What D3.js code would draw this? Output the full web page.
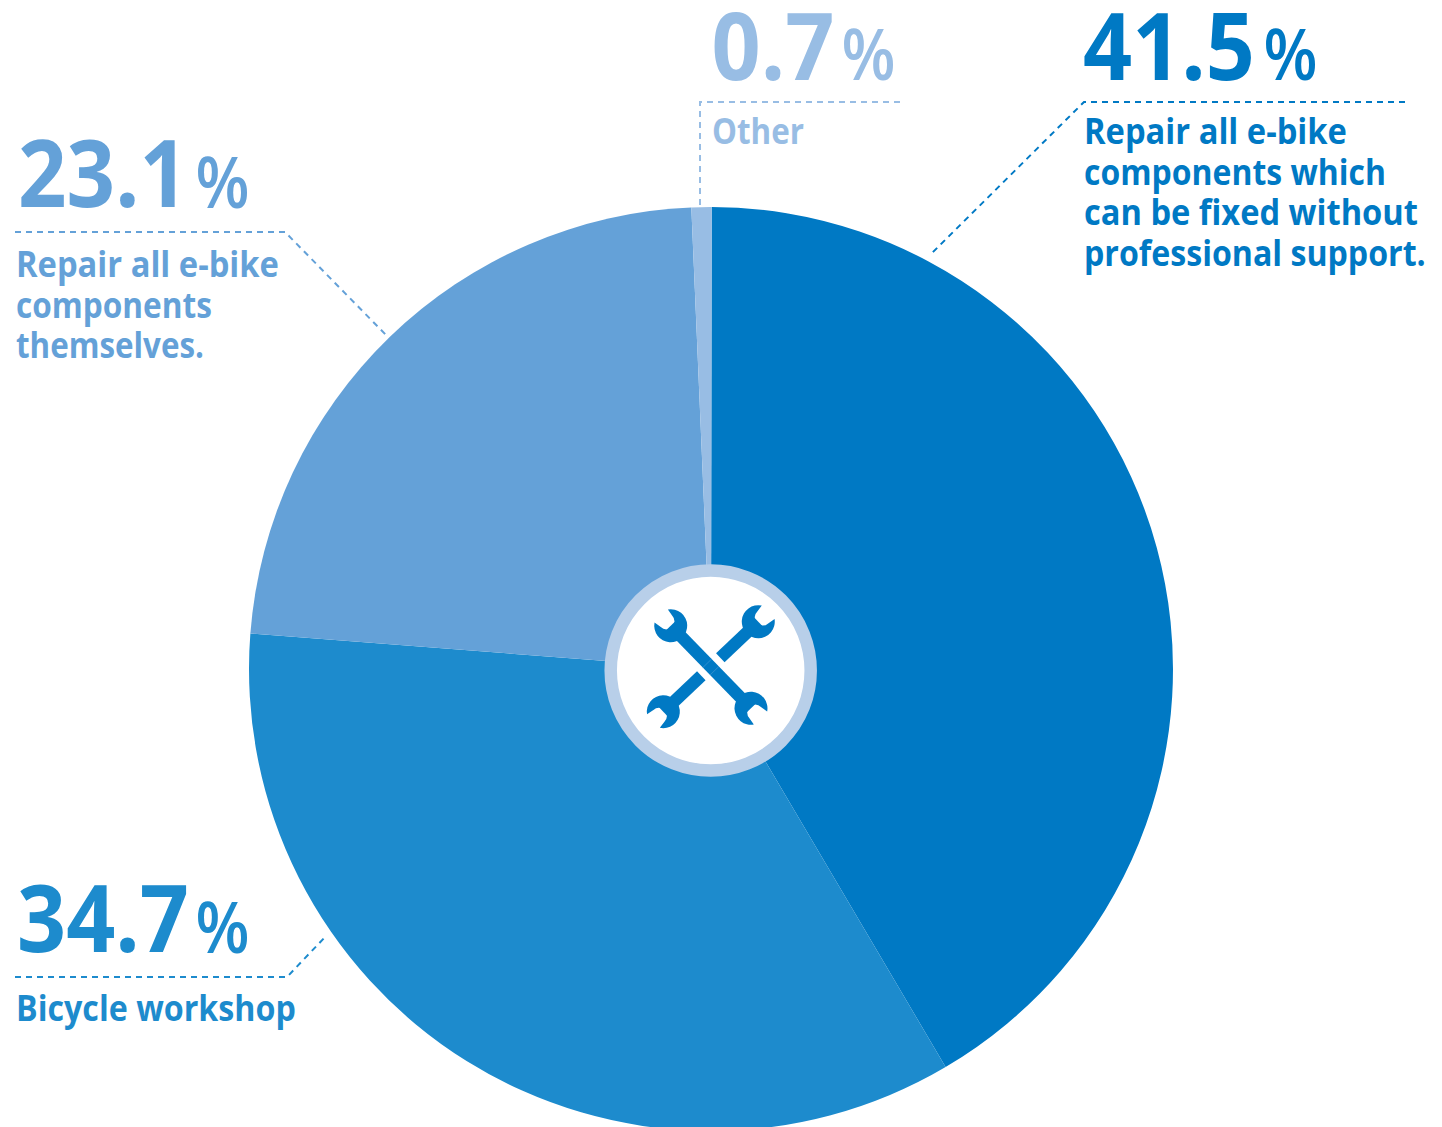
<!DOCTYPE html>
<html>
<head>
<meta charset="utf-8">
<script src="https://cdn.jsdelivr.net/npm/d3@7/dist/d3.min.js"></script>
<style>
html,body{margin:0;padding:0;background:#fff;overflow:hidden}
svg{display:block}
text{font-family:"Open Sans",sans-serif}
</style>
</head>
<body>
<svg id="chart" width="1442" height="1127"></svg>
<script>
// Share of respondents per repair approach, in percent
const categories = ["repairFixable", "workshop", "repairAll", "other"];
const values = [41.5, 34.7, 23.1, 0.7];
const valueLabels = ["41.5", "34.7", "23.1", "0.7"];
const captions = [
  ["Repair all e-bike", "components which", "can be fixed without", "professional support."],
  ["Bicycle workshop"],
  ["Repair all e-bike", "components", "themselves."],
  ["Other"]
];
const colors = ["#0079c4", "#1d8bcd", "#64a1d8", "#98bde4"];

const W = 1442, H = 1127;
const cx = 711, cy = 669, R = 462;
const svg = d3.select("#chart").attr("viewBox", [0, 0, W, H]);

const colorOf = d3.scaleOrdinal().domain(categories).range(colors);
const startAngle = 0.08 * Math.PI / 180;
const pie = d3.pie().value(d => d.value).sort(null)
  .startAngle(startAngle).endAngle(startAngle + 2 * Math.PI);
const arc = d3.arc().innerRadius(0).outerRadius(R);
const rows = categories.map((c, i) => ({ key: c, value: values[i], label: valueLabels[i], caption: captions[i] }));

svg.append("g").attr("transform", `translate(${cx},${cy})`)
  .selectAll("path").data(pie(rows)).join("path")
  .attr("d", arc)
  .attr("fill", d => colorOf(d.data.key));

// Annotation placement: number origin, percent sign origin, caption origin and line widths, leader polyline
const layout = {
  repairFixable: { num: [1083, 80], numW: 172, pct: [1263.5, 80], pctW: 54, cap: [1084, 144], capW: [263, 302, 334, 342], leader: [[1405, 102], [1084, 102], [930, 255]] },
  workshop: { num: [17, 952], numW: 172, pct: [195.5, 953], pctW: 54, cap: [16, 1021], capW: [280], leader: [[15, 977], [287, 977], [327, 935]] },
  repairAll: { num: [18, 207], numW: 170, pct: [195.5, 208], pctW: 54, cap: [16, 277], capW: [263, 196, 188], leader: [[15, 232], [285, 232], [387, 336]] },
  other: { num: [711.5, 80], numW: 123, pct: [841.5, 80], pctW: 54, cap: [712, 144], capW: [92], leader: [[900, 102], [700, 102], [700, 207]] }
};

const line = d3.line();
const fittedText = (g, str, x, y, size, weight, width) => {
  const t = g.append("text").attr("font-size", size).attr("font-weight", weight).text(str);
  const k = width / t.node().getComputedTextLength();
  t.attr("transform", `translate(${x},${y}) scale(${k},1)`);
  return t;
};

rows.forEach(r => {
  const L = layout[r.key];
  const c = colorOf(r.key);
  const g = svg.append("g").attr("fill", c);
  g.append("path").attr("d", line(L.leader))
    .attr("fill", "none").attr("stroke", c).attr("stroke-width", 2)
    .attr("stroke-dasharray", "6 5");
  fittedText(g, r.label, L.num[0], L.num[1], 94, 700, L.numW);
  fittedText(g, "%", L.pct[0], L.pct[1], 70, 600, L.pctW);
  r.caption.forEach((s, i) => fittedText(g, s, L.cap[0], L.cap[1] + i * 40.6, 35, 700, L.capW[i]));
});

// Centre badge
const bx = 710.7, by = 670.5;
const badge = svg.append("g").attr("transform", `translate(${bx},${by})`);
badge.append("circle").attr("r", 100).attr("fill", "#fff")
  .attr("stroke", "#b8cfe9").attr("stroke-width", 12.5);

// Crossed spanners: a head is drawn around the local origin, jaws opening towards -x
const headPath = "M-13.6,-9.3 A16.5,16.5 0 1 1 -13.6,9.3 L-6,8 A8,8 0 0 0 -6,-8 Z";
const icon = badge.append("g").attr("fill", "#0079c4");
const spanner = (a, b, segments) => {
  const ang = Math.atan2(b[1] - a[1], b[0] - a[0]) * 180 / Math.PI;
  const len = Math.hypot(b[0] - a[0], b[1] - a[1]);
  const s = icon.append("g").attr("transform", `translate(${a[0]},${a[1]}) rotate(${ang})`);
  s.append("path").attr("d", headPath);
  s.append("path").attr("d", headPath).attr("transform", `translate(${len},0) rotate(180)`);
  segments.forEach(([from, to]) => s.append("rect")
    .attr("x", from * len).attr("width", (to - from) * len).attr("y", -6.2).attr("height", 12.4));
  return { s, len };
};
const front = spanner([-40, -44.8], [40.3, 37.8], [[0, 1]]);
spanner([47.6, -48.8], [-47.4, 41.2], [[0, 0.40], [0.60, 1]]);

// Hairline seams where the front spanner's handle crosses the rear one
[0.455, 0.545].forEach(f => front.s.append("line")
  .attr("x1", f * front.len).attr("x2", f * front.len).attr("y1", -6.2).attr("y2", 6.2)
  .attr("stroke", "#4a9ad3").attr("stroke-width", 0.6));
</script>
</body>
</html>
